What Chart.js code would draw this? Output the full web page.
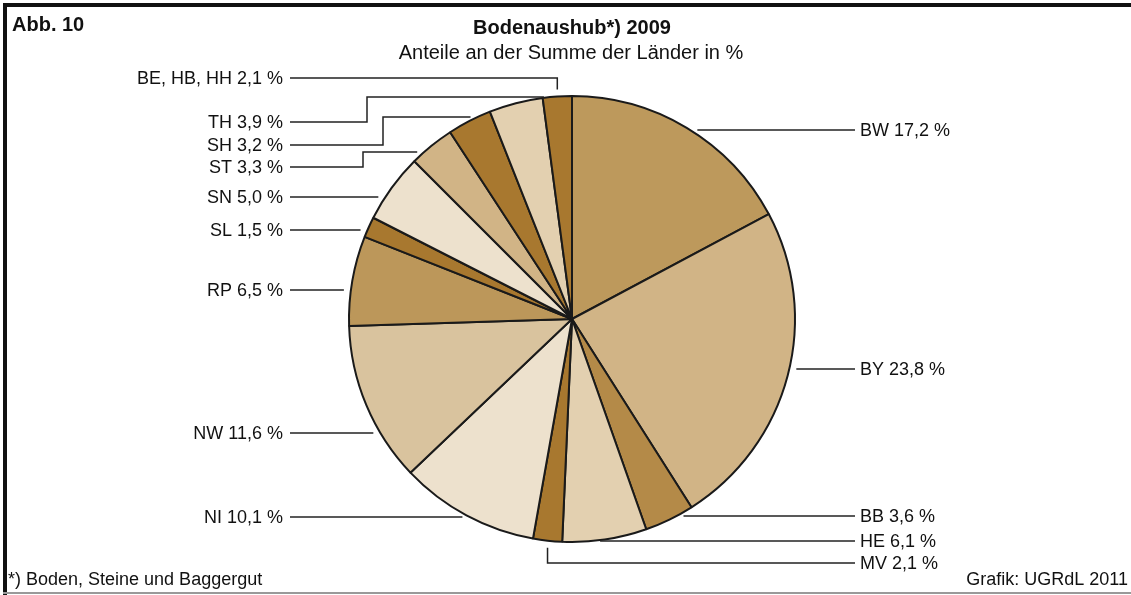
<!DOCTYPE html>
<html lang="de">
<head>
<meta charset="utf-8">
<title>Bodenaushub 2009</title>
<script src="https://cdn.jsdelivr.net/npm/chart.js@4"></script>
<style>
    body { margin: 0; background: #fff; }
    #rahmen { position: relative; width: 1131px; height: 595px; overflow: hidden; }
    #rahmen .oben { position: absolute; left: 3px; top: 3px; width: 1128px; height: 4px; background: #111; }
    #rahmen .links { position: absolute; left: 3px; top: 3px; width: 4px; height: 592px; background: #111; }
    #rahmen .unten { position: absolute; left: 3px; top: 592px; width: 1128px; height: 2px; background: #999; }
    canvas { position: absolute; left: 0; top: 0; }
</style>
</head>
<body>
<div id="rahmen">
    <canvas id="myChart" width="1131" height="595"></canvas>
    <div class="oben"></div>
    <div class="links"></div>
    <div class="unten"></div>
</div>
<script>
// Daten (Anteile an der Summe der Länder in %)
const laender = ['BW', 'BY', 'BB', 'HE', 'MV', 'NI', 'NW', 'RP', 'SL', 'SN', 'ST', 'SH', 'TH', 'BE, HB, HH'];
const anteile = [17.2, 23.8, 3.6, 6.1, 2.1, 10.1, 11.6, 6.5, 1.5, 5.0, 3.3, 3.2, 3.9, 2.1];

const farben = [
    '#BD995C', '#D1B486', '#B48A48', '#E3D0B0', '#A8782F', '#EDE1CD', '#D9C39E',
    '#BC975A', '#A8782F', '#EDE1CD', '#D1B486', '#A8782F', '#E3D0B0', '#A8782F'
];

// Lage der Beschriftungen (Seite, Zeile, ggf. Knick der Führungslinie)
const beschriftung = [
    { seite: 'r', y: 130 },
    { seite: 'r', y: 369 },
    { seite: 'r', y: 516 },
    { seite: 'r', y: 541 },
    { seite: 'r', y: 563, senkrecht: true },
    { seite: 'l', y: 517 },
    { seite: 'l', y: 433 },
    { seite: 'l', y: 290 },
    { seite: 'l', y: 230 },
    { seite: 'l', y: 197 },
    { seite: 'l', y: 167, knick: 363, ankerY: 152 },
    { seite: 'l', y: 145, knick: 383, ankerY: 117 },
    { seite: 'l', y: 122, knick: 367, ankerY: 97 },
    { seite: 'l', y: 78, senkrecht: true }
];

const schrift = '"Liberation Sans", Arial, sans-serif';

function zahl(v) {
    return v.toFixed(1).replace('.', ',') + ' %';
}

const beschriftungPlugin = {
    id: 'beschriftung',
    afterDraw(chart) {
        const ctx = chart.ctx;
        const arcs = chart.getDatasetMeta(0).data;
        const cx = arcs[0].x, cy = arcs[0].y, r = arcs[0].outerRadius;
        const abstand = 7;
        const linksX = 283, rechtsX = 860;

        ctx.save();
        ctx.strokeStyle = '#222';
        ctx.lineWidth = 1.5;
        ctx.fillStyle = '#111';
        ctx.font = '18px ' + schrift;
        ctx.textBaseline = 'middle';

        arcs.forEach(function(arc, i) {
            const b = beschriftung[i];
            const links = b.seite === 'l';
            const text = laender[i] + ' ' + zahl(anteile[i]);
            const mitte = (arc.startAngle + arc.endAngle) / 2;
            ctx.beginPath();
            if (b.senkrecht) {
                const ax = cx + r * Math.cos(mitte);
                const dy = Math.sqrt(Math.max(r * r - (ax - cx) * (ax - cx), 0));
                const ay = b.y < cy ? cy - dy - abstand : cy + dy + abstand;
                ctx.moveTo(ax, ay);
                ctx.lineTo(ax, b.y);
                ctx.lineTo(links ? linksX + 7 : rechtsX - 5, b.y);
            } else {
                const ankerY = b.ankerY !== undefined ? b.ankerY : b.y;
                const dx = Math.sqrt(Math.max(r * r - (ankerY - cy) * (ankerY - cy), 0));
                const ex = links ? cx - dx - abstand : cx + dx + abstand;
                ctx.moveTo(links ? linksX + 7 : rechtsX - 5, b.y);
                if (b.knick !== undefined) {
                    ctx.lineTo(b.knick, b.y);
                    ctx.lineTo(b.knick, ankerY);
                }
                ctx.lineTo(ex, ankerY);
            }
            ctx.stroke();
            ctx.textAlign = links ? 'right' : 'left';
            ctx.fillText(text, links ? linksX : rechtsX, b.y + 1);
        });

        // Titel und Fußnoten
        ctx.textAlign = 'left';
        ctx.font = 'bold 20px ' + schrift;
        ctx.fillText('Abb. 10', 12, 25);
        ctx.textAlign = 'center';
        ctx.font = 'bold 20px ' + schrift;
        ctx.fillText('Bodenaushub*) 2009', 572, 28);
        ctx.font = '20px ' + schrift;
        ctx.fillText('Anteile an der Summe der Länder in %', 571, 53);
        ctx.font = '18px ' + schrift;
        ctx.textAlign = 'left';
        ctx.fillText('*) Boden, Steine und Baggergut', 8, 580);
        ctx.textAlign = 'right';
        ctx.fillText('Grafik: UGRdL 2011', 1128, 580);
        ctx.restore();
    }
};

function cargarGrafico() {
    const ctx = document.getElementById('myChart').getContext('2d');
    new Chart(ctx, {
        type: 'pie',
        data: {
            labels: laender,
            datasets: [{
                label: 'Bodenaushub 2009',
                data: anteile,
                backgroundColor: farben,
                borderColor: '#1a1a1a',
                borderWidth: 2
            }]
        },
        options: {
            responsive: false,
            animation: false,
            layout: {
                padding: { left: 348, right: 335, top: 95, bottom: 52 }
            },
            plugins: {
                legend: { display: false },
                tooltip: { enabled: false }
            }
        },
        plugins: [beschriftungPlugin]
    });
}

cargarGrafico();
</script>
</body>
</html>
